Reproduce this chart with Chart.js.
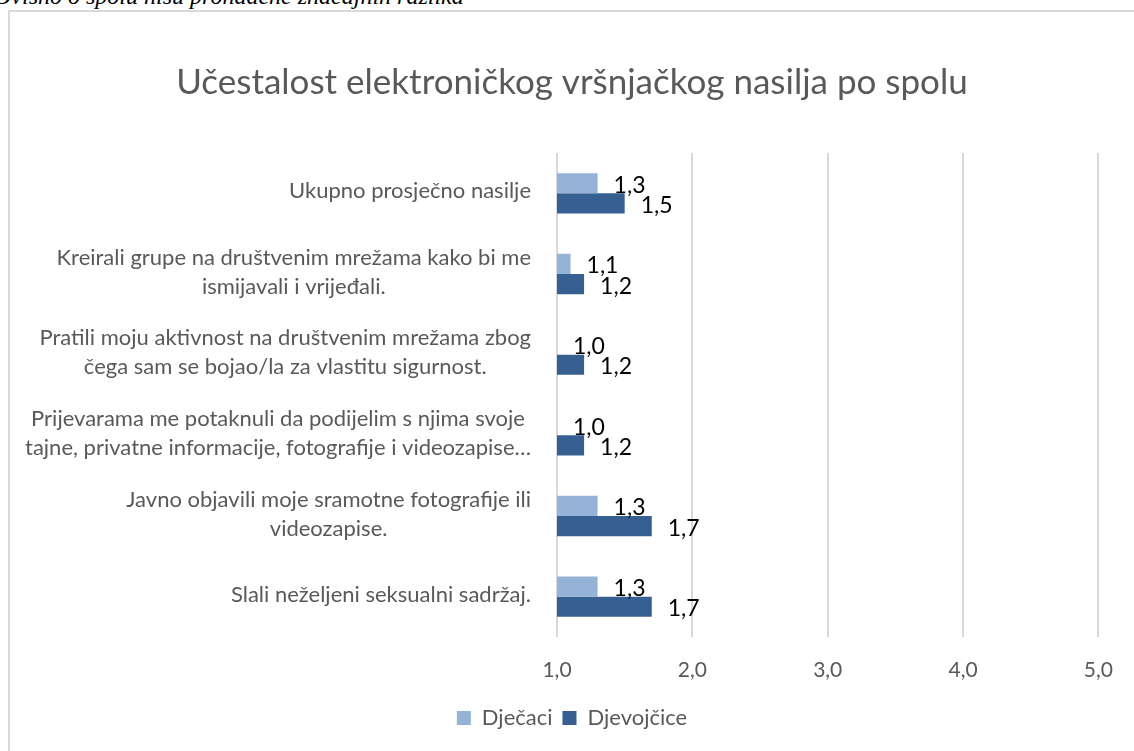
<!DOCTYPE html>
<html>
<head>
    <title>Učestalost elektroničkog vršnjačkog nasilja po spolu</title>
    <script src="https://cdn.jsdelivr.net/npm/chart.js"></script>
    <style>
        html, body {
            margin: 0;
            padding: 0;
            background: #fff;
            overflow: hidden;
        }

        #caption {
            position: absolute;
            left: -6px;
            top: -17px;
            font-family: "Liberation Serif", serif;
            font-style: italic;
            font-size: 24px;
            color: #000;
            white-space: nowrap;
        }

        #frame {
            position: absolute;
            left: 8px;
            top: 10px;
            width: 1140px;
            height: 760px;
            border: 2px solid #d9d9d9;
        }

        #chartBox {
            position: absolute;
            left: 0;
            top: 0;
            width: 1134px;
            height: 751px;
        }
    </style>
</head>
<body>
<div id="caption">Ovisno o spolu nisu pronađene značajnih razlika</div>
<div id="frame"></div>
<div id="chartBox"><canvas id="chart"></canvas></div>
<script>
    const categories = [
        ['Ukupno prosječno nasilje'],
        ['Kreirali grupe na društvenim mrežama kako bi me', 'ismijavali i vrijeđali.'],
        ['Pratili moju aktivnost na društvenim mrežama zbog', 'čega sam se bojao/la za vlastitu sigurnost.'],
        ['Prijevarama me potaknuli da podijelim s njima svoje', 'tajne, privatne informacije, fotografije i videozapise…'],
        ['Javno objavili moje sramotne fotografije ili', 'videozapise.'],
        ['Slali neželjeni seksualni sadržaj.']
    ];
    const djecaci = [1.3, 1.1, 1.0, 1.0, 1.3, 1.3];
    const djevojcice = [1.5, 1.2, 1.2, 1.2, 1.7, 1.7];
    const xTicks = [1, 2, 3, 4, 5];

    const textGray = '#595959';
    const fontFamily = 'Lato, "Open Sans", sans-serif';

    const fmt = v => v.toFixed(1).replace('.', ',');

    // category labels: each block right aligned, lines centered inside it
    const categoryLabels = {
        id: 'categoryLabels',
        afterDraw(chart) {
            const c = chart.ctx;
            const yScale = chart.scales.y;
            const right = chart.chartArea.left - 26;
            c.save();
            c.font = '22px ' + fontFamily;
            c.fillStyle = textGray;
            c.textAlign = 'center';
            c.textBaseline = 'middle';
            const lh = 29;
            categories.forEach((lines, i) => {
                const y = yScale.getPixelForTick(i);
                const w = Math.max(...lines.map(l => c.measureText(l).width));
                const cx = right - w / 2;
                const y0 = y - (lines.length - 1) * lh / 2 - 2;
                lines.forEach((l, j) => c.fillText(l, cx, y0 + j * lh));
            });
            c.restore();
        }
    };

    // value labels at the end of each bar
    const valueLabels = {
        id: 'valueLabels',
        afterDatasetsDraw(chart) {
            const c = chart.ctx;
            c.save();
            c.font = '23px ' + fontFamily;
            c.fillStyle = '#000';
            c.textAlign = 'left';
            c.textBaseline = 'middle';
            chart.data.datasets.forEach((ds, di) => {
                chart.getDatasetMeta(di).data.forEach((bar, i) => {
                    c.fillText(fmt(ds.data[i]), bar.x + 16, bar.y + 2);
                });
            });
            c.restore();
        }
    };

    new Chart(document.getElementById('chart'), {
        type: 'bar',
        data: {
            labels: categories,
            datasets: [
                {
                    label: 'Dječaci',
                    data: djecaci,
                    backgroundColor: '#95b3d7',
                    categoryPercentage: 0.5,
                    barPercentage: 1.0
                },
                {
                    label: 'Djevojčice',
                    data: djevojcice,
                    backgroundColor: '#366092',
                    categoryPercentage: 0.5,
                    barPercentage: 1.0
                }
            ]
        },
        options: {
            indexAxis: 'y',
            responsive: true,
            maintainAspectRatio: false,
            animation: false,
            layout: {
                padding: {left: 44, right: 34, top: 0, bottom: 12}
            },
            scales: {
                x: {
                    min: 1,
                    max: 5,
                    afterBuildTicks: s => { s.ticks = xTicks.map(v => ({value: v})); },
                    afterFit: s => { s.height = 60; },
                    grid: {color: '#d9d9d9', lineWidth: 2, drawTicks: false},
                    border: {display: false},
                    ticks: {
                        padding: 21,
                        color: textGray,
                        font: {family: fontFamily, size: 21},
                        callback: v => fmt(v)
                    }
                },
                y: {
                    afterFit: s => { s.width = 513; },
                    grid: {display: false},
                    border: {display: false},
                    ticks: {display: false}
                }
            },
            plugins: {
                title: {
                    display: true,
                    text: 'Učestalost elektroničkog vršnjačkog nasilja po spolu',
                    color: textGray,
                    font: {family: fontFamily, size: 35, weight: 'normal'},
                    padding: {top: 62, bottom: 49}
                },
                legend: {
                    position: 'bottom',
                    labels: {
                        boxWidth: 14,
                        boxHeight: 14,
                        padding: 10,
                        color: textGray,
                        font: {family: fontFamily, size: 22}
                    }
                },
                tooltip: {enabled: false}
            }
        },
        plugins: [categoryLabels, valueLabels]
    });
</script>
</body>
</html>
